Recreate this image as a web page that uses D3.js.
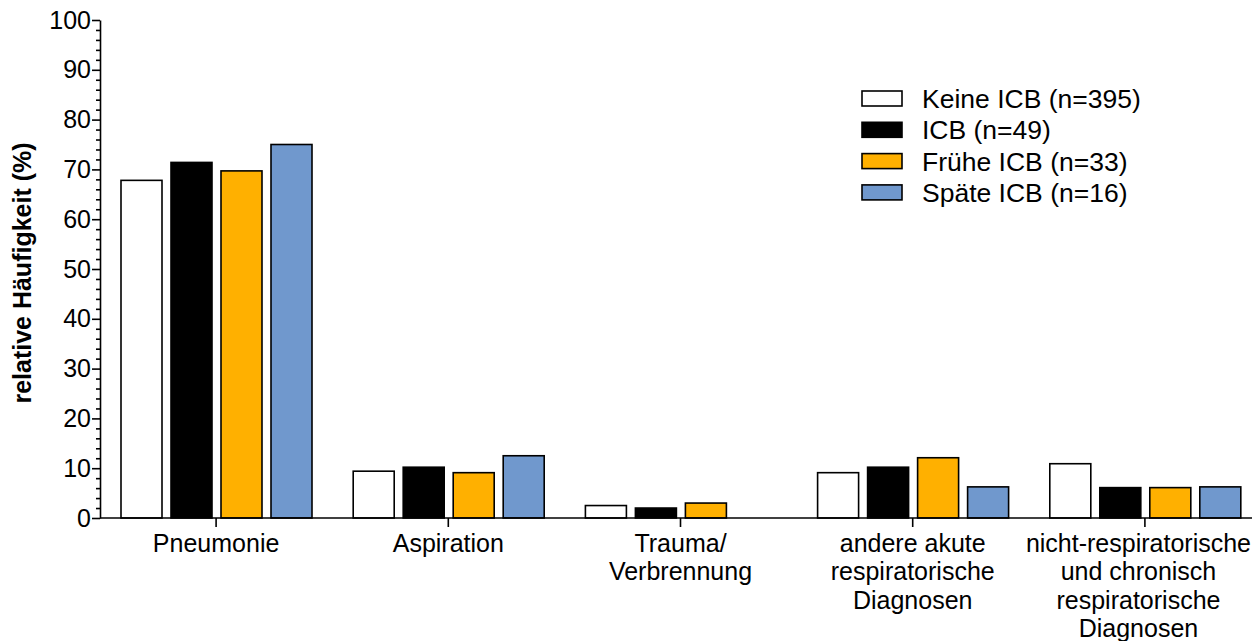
<!DOCTYPE html>
<html>
<head>
<meta charset="utf-8">
<script src="https://cdn.jsdelivr.net/npm/d3@7"></script>
<style>
  body { margin: 0; background: #fff; }
  svg { display: block; font-family: "Liberation Sans", Arial, sans-serif; }
</style>
</head>
<body>
<svg id="chart" width="1252" height="641"></svg>
<script>
// categories (multi-line labels split by |)
var categories = ["Pneumonie", "Aspiration", "Trauma/|Verbrennung",
  "andere akute|respiratorische|Diagnosen",
  "nicht-respiratorische|und chronisch|respiratorische|Diagnosen"];

var series = ["Keine ICB (n=395)", "ICB (n=49)", "Frühe ICB (n=33)", "Späte ICB (n=16)"];
var colors = ["#ffffff", "#000000", "#ffb000", "#7098cd"];

// relative frequency (%) per series, one value per category
var keineICB = [67.8, 9.4, 2.5, 9.1, 10.9];
var icb      = [71.4, 10.2, 2.0, 10.2, 6.1];
var fruehICB = [69.7, 9.1, 3.0, 12.1, 6.1];
var spaetICB = [75.0, 12.5, 0, 6.25, 6.25];

var yTicks = [0, 10, 20, 30, 40, 50, 60, 70, 80, 90, 100];

var values = [keineICB, icb, fruehICB, spaetICB];

var width = 1252;
var svg = d3.select("#chart");

var y = d3.scaleLinear().domain([0, 100]).range([518, 20]);

var x0 = d3.scaleBand()
    .domain(categories)
    .range([100, 1261])
    .padding(0);

var x1 = d3.scaleBand()
    .domain(d3.range(series.length))
    .range([21, 212])
    .paddingInner(0.18);

// bars
var group = svg.selectAll("g.cat")
    .data(categories)
  .enter().append("g")
    .attr("class", "cat")
    .attr("transform", function(d) { return "translate(" + x0(d) + ",0)"; });

group.selectAll("rect")
    .data(function(d, i) {
      return values.map(function(v, s) { return {s: s, v: v[i]}; });
    })
  .enter().filter(function(d) { return d.v > 0; }).append("rect")
    .attr("x", function(d) { return x1(d.s); })
    .attr("width", x1.bandwidth())
    .attr("y", function(d) { return y(d.v); })
    .attr("height", function(d) { return y(0) - y(d.v); })
    .attr("fill", function(d) { return colors[d.s]; })
    .attr("stroke", "#000")
    .attr("stroke-width", 1.6);

// y axis: major ticks every 10, minor every 2
var yAxis = svg.append("g")
    .attr("transform", "translate(100,0)")
    .call(d3.axisLeft(y).tickValues(yTicks).tickSize(8).tickSizeOuter(0).tickPadding(1));

svg.append("g")
    .attr("transform", "translate(100,0)")
    .call(d3.axisLeft(y).tickValues(d3.range(0, 101, 2).filter(function(v) { return v % 10; }))
      .tickSize(4).tickFormat("").tickSizeOuter(0))
    .select(".domain").remove();

yAxis.selectAll("text").attr("font-size", 25).attr("fill", "#000").attr("font-family", null);
svg.selectAll("g line, g path.domain").attr("stroke", "#000").attr("stroke-width", 1.6);

// x axis
var xAxis = svg.append("g")
    .attr("transform", "translate(0,518)")
    .call(d3.axisBottom(x0).tickSize(9).tickSizeOuter(0).tickFormat(""));
xAxis.select(".domain").attr("d", "M100,0H" + width);
xAxis.selectAll("line, path").attr("stroke", "#000").attr("stroke-width", 1.6);

xAxis.selectAll(".tick").each(function(d) {
  var lines = d.split("|");
  var t = d3.select(this).append("text")
      .attr("fill", "#000")
      .attr("font-size", 25)
      .attr("text-anchor", "middle");
  lines.forEach(function(l, i) {
    t.append("tspan").attr("x", 0).attr("y", 34 + i * 28.3).text(l);
  });
  // keep the label inside the picture
  var r = this.getBoundingClientRect ? t.node().getBoundingClientRect() : null;
  if (r && r.right > width - 1) {
    t.attr("transform", "translate(" + (width - 1 - r.right) + ",0)");
  }
});

// y title
svg.append("text")
    .attr("transform", "translate(31,273) rotate(-90)")
    .attr("text-anchor", "middle")
    .attr("font-size", 25)
    .attr("font-weight", "bold")
    .text("relative Häufigkeit (%)");

// legend
var legend = svg.append("g").attr("transform", "translate(862,91)");
var item = legend.selectAll("g")
    .data(series)
  .enter().append("g")
    .attr("transform", function(d, i) { return "translate(0," + i * 31.3 + ")"; });
item.append("rect")
    .attr("width", 40).attr("height", 15)
    .attr("fill", function(d, i) { return colors[i]; })
    .attr("stroke", "#000").attr("stroke-width", 1.6);
item.append("text")
    .attr("x", 60).attr("y", 17)
    .attr("font-size", 26.5)
    .text(function(d) { return d; });
</script>
</body>
</html>
